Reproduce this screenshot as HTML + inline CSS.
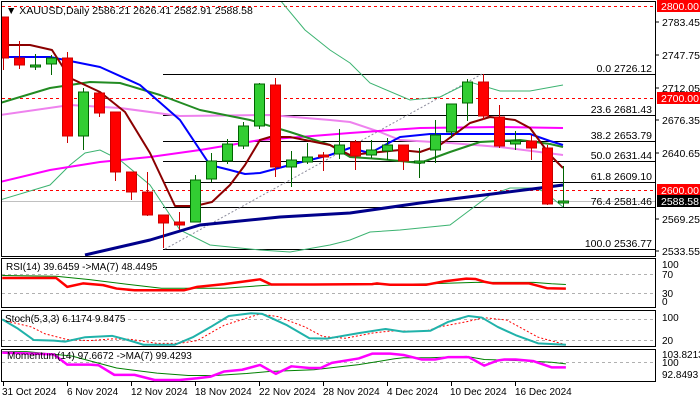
<!DOCTYPE html>
<html><head><meta charset="utf-8"><style>
html,body{margin:0;padding:0;background:#fff;}
svg{display:block;font-family:"Liberation Sans",sans-serif;}
</style></head><body>
<svg width="700" height="400" viewBox="0 0 700 400" xmlns="http://www.w3.org/2000/svg">
<rect width="700" height="400" fill="#fff"/>
<defs><clipPath id="mc"><rect x="2" y="2" width="653" height="254"/></clipPath></defs>
<!-- main frame -->
<rect x="1.5" y="1.5" width="654" height="255" fill="none" stroke="#000"/>
<g clip-path="url(#mc)">
<!-- red dashed levels -->
<g stroke="#ff0000" stroke-dasharray="3,3" stroke-width="1">
<line x1="2" y1="6.5" x2="655" y2="6.5"/><line x1="2" y1="98.5" x2="655" y2="98.5"/><line x1="2" y1="190.5" x2="655" y2="190.5"/>
</g>
<line x1="2" y1="201.5" x2="655" y2="201.5" stroke="#c0c0c0"/>
<!-- fib -->
<g stroke="#000" stroke-width="1">
<line x1="163" y1="74.5" x2="655" y2="74.5"/><line x1="163" y1="115.5" x2="655" y2="115.5"/><line x1="163" y1="141.5" x2="655" y2="141.5"/><line x1="163" y1="161.5" x2="655" y2="161.5"/><line x1="163" y1="182.5" x2="655" y2="182.5"/><line x1="163" y1="207.5" x2="655" y2="207.5"/><line x1="163" y1="249.5" x2="655" y2="249.5"/>
</g>
<line x1="165" y1="249" x2="482" y2="74" stroke="#8c8c9c" stroke-dasharray="2,2"/>
<g font-size="10.5" fill="#000" text-anchor="end">
<text x="652" y="72">0.0 2726.12</text><text x="652" y="113">23.6 2681.43</text><text x="652" y="139">38.2 2653.79</text><text x="652" y="159">50.0 2631.44</text><text x="652" y="180">61.8 2609.10</text><text x="652" y="205">76.4 2581.46</text><text x="652" y="247">100.0 2536.77</text>
</g>
<!-- bollinger -->
<g fill="none" stroke="#3cb371" stroke-width="1">
<polyline points="280,0 305,30 330,50 350,63 370,83 410,100 440,97 470,82 500,91 530,91 563,85"/>
<polyline points="0,200 50,185 70,165 85,153 100,150 120,160 150,185 180,230 210,245 260,250 290,252 330,245 350,240 370,232 400,230 450,225 470,210 490,195 510,188 535,188 545,192 563,207"/>
</g>
<g fill="none" stroke-width="2" stroke-linejoin="round">
<polyline stroke="#ee82ee" points="0,115 70,105 120,108 180,116 270,115 330,120 350,122 380,132 400,140 450,143 500,147 563,155"/>
<polyline stroke="#ff00ff" points="0,182 50,170 100,162 150,157 200,150 260,140 300,137 350,133 420,128 500,127 563,128"/>
<polyline stroke="#00008b" stroke-width="3" points="85,255 150,240 200,225 280,217 350,213 420,203 500,193 540,188 563,185"/>
<polyline stroke="#228b22" points="0,103 50,88 90,82 120,83 160,95 200,110 250,120 290,132 330,145 350,157 380,159 420,163 450,152 480,142 520,140 550,144 563,147"/>
<polyline stroke="#0000ff" points="0,57 50,57 100,67 140,85 180,120 210,165 230,170 245,174 260,173 290,165 330,155 350,148 370,153 400,137 430,134 530,134 550,141 563,145"/>
<polyline stroke="#8b0000" points="0,45 30,45 52,50 70,78 100,92 125,112 150,153 175,206 195,206 212,202 230,185 245,165 260,140 270,137 290,137 330,145 350,155 370,153 400,150 420,152 440,145 470,123 490,117 515,120 530,128 550,155 563,168"/>
</g>
<!-- candles -->
<g stroke-width="1">
<g stroke="#cc0000" fill="#ff0000">
<line x1="3.5" y1="17" x2="3.5" y2="70"/><rect x="-1.5" y="17" width="10" height="41"/>
<line x1="19.5" y1="41" x2="19.5" y2="69"/><rect x="14.5" y="58" width="10" height="7"/>
<line x1="67.5" y1="52" x2="67.5" y2="143"/><rect x="62.5" y="58" width="10" height="78"/>
<line x1="99.5" y1="93" x2="99.5" y2="117"/><rect x="94.5" y="93" width="10" height="20"/>
<line x1="115.5" y1="112" x2="115.5" y2="181"/><rect x="110.5" y="112" width="10" height="60"/>
<line x1="131.5" y1="172" x2="131.5" y2="200"/><rect x="126.5" y="172" width="10" height="20"/>
<line x1="147.5" y1="172" x2="147.5" y2="216"/><rect x="142.5" y="192" width="10" height="23"/>
<line x1="163.5" y1="215" x2="163.5" y2="248"/><rect x="158.5" y="215" width="10" height="8"/>
<line x1="179.5" y1="212" x2="179.5" y2="230"/><rect x="174.5" y="222" width="10" height="3"/>
<line x1="275.5" y1="78" x2="275.5" y2="177"/><rect x="270.5" y="85" width="10" height="82"/>
<line x1="323.5" y1="152" x2="323.5" y2="171"/><rect x="318.5" y="155" width="10" height="2"/>
<line x1="355.5" y1="140" x2="355.5" y2="170"/><rect x="350.5" y="142" width="10" height="14"/>
<line x1="403.5" y1="145" x2="403.5" y2="170"/><rect x="398.5" y="145" width="10" height="16"/>
<line x1="483.5" y1="74" x2="483.5" y2="120"/><rect x="478.5" y="82" width="10" height="34"/>
<line x1="499.5" y1="105" x2="499.5" y2="148"/><rect x="494.5" y="117" width="10" height="29"/>
<line x1="531.5" y1="135" x2="531.5" y2="160"/><rect x="526.5" y="141" width="10" height="7"/>
<line x1="547.5" y1="145" x2="547.5" y2="205"/><rect x="542.5" y="148" width="10" height="56"/>
</g>
<g stroke="#006400" fill="#32cd32">
<line x1="35.5" y1="54" x2="35.5" y2="70"/><rect x="30.5" y="65" width="10" height="2"/>
<line x1="51.5" y1="55" x2="51.5" y2="75"/><rect x="46.5" y="58" width="10" height="6"/>
<line x1="83.5" y1="88" x2="83.5" y2="150"/><rect x="78.5" y="92" width="10" height="44"/>
<line x1="195.5" y1="175" x2="195.5" y2="222"/><rect x="190.5" y="180" width="10" height="42"/>
<line x1="211.5" y1="153" x2="211.5" y2="182"/><rect x="206.5" y="161" width="10" height="18"/>
<line x1="227.5" y1="139" x2="227.5" y2="164"/><rect x="222.5" y="144" width="10" height="17"/>
<line x1="243.5" y1="122" x2="243.5" y2="149"/><rect x="238.5" y="126" width="10" height="20"/>
<line x1="259.5" y1="83" x2="259.5" y2="129"/><rect x="254.5" y="84" width="10" height="42"/>
<line x1="291.5" y1="151" x2="291.5" y2="187"/><rect x="286.5" y="160" width="10" height="7"/>
<line x1="307.5" y1="143" x2="307.5" y2="164"/><rect x="302.5" y="157" width="10" height="5"/>
<line x1="339.5" y1="129" x2="339.5" y2="159"/><rect x="334.5" y="145" width="10" height="9"/>
<line x1="371.5" y1="140" x2="371.5" y2="158"/><rect x="366.5" y="150" width="10" height="5"/>
<line x1="387.5" y1="138" x2="387.5" y2="160"/><rect x="382.5" y="145" width="10" height="6"/>
<line x1="419.5" y1="148" x2="419.5" y2="178"/><rect x="414.5" y="161" width="10" height="2"/>
<line x1="435.5" y1="120" x2="435.5" y2="163"/><rect x="430.5" y="135" width="10" height="15"/>
<line x1="451.5" y1="104" x2="451.5" y2="138"/><rect x="446.5" y="104" width="10" height="28"/>
<line x1="467.5" y1="79" x2="467.5" y2="121"/><rect x="462.5" y="82" width="10" height="21"/>
<line x1="515.5" y1="131" x2="515.5" y2="150"/><rect x="510.5" y="141" width="10" height="3"/>
<line x1="563.5" y1="166" x2="563.5" y2="207"/><rect x="558.5" y="201" width="10" height="2"/>
</g>
</g>
</g>
<text x="6" y="14" font-size="10.5" fill="#000">▼ XAUUSD,Daily  2586.21 2626.41 2582.91 2588.58</text>
<!-- right axis main -->
<g font-size="10.5" fill="#000">
<line x1="655" y1="22" x2="659" y2="22" stroke="#000"/><text x="662" y="26">2783.45</text>
<line x1="655" y1="55" x2="659" y2="55" stroke="#000"/><text x="662" y="59">2747.75</text>
<line x1="655" y1="88" x2="659" y2="88" stroke="#000"/><text x="662" y="92">2712.05</text>
<line x1="655" y1="120" x2="659" y2="120" stroke="#000"/><text x="662" y="124">2676.35</text>
<line x1="655" y1="153" x2="659" y2="153" stroke="#000"/><text x="662" y="157">2640.65</text>
<line x1="655" y1="219" x2="659" y2="219" stroke="#000"/><text x="662" y="223">2569.25</text>
<line x1="655" y1="251" x2="659" y2="251" stroke="#000"/><text x="662" y="255">2533.55</text>
<rect x="657" y="0" width="43" height="12" fill="#ff0000"/><text x="661" y="10" fill="#fff">2800.00</text>
<rect x="657" y="92" width="43" height="12" fill="#ff0000"/><text x="661" y="102" fill="#fff">2700.00</text>
<rect x="657" y="184" width="43" height="12" fill="#ff0000"/><text x="661" y="194" fill="#fff">2600.00</text>
<rect x="657" y="195" width="43" height="12" fill="#000"/><text x="661" y="205" fill="#fff">2588.58</text>
</g>
<!-- sub panels -->
<rect x="1.5" y="258.5" width="654" height="49" fill="none" stroke="#000"/>
<rect x="1.5" y="310.5" width="654" height="36" fill="none" stroke="#000"/>
<rect x="1.5" y="349.5" width="654" height="32" fill="none" stroke="#000"/>
<g stroke="#b0b0b0" stroke-dasharray="3,3">
<line x1="2" y1="274.5" x2="655" y2="274.5"/><line x1="2" y1="293.5" x2="655" y2="293.5"/>
<line x1="2" y1="319.5" x2="655" y2="319.5"/><line x1="2" y1="340.5" x2="655" y2="340.5"/>
<line x1="2" y1="362.5" x2="655" y2="362.5"/>
</g>
<g transform="translate(0,255) scale(0.4484,0.3425)" fill="none" stroke-linejoin="round">
<polyline vector-effect="non-scaling-stroke" stroke="#008000" stroke-width="1" points="5,60 125,62 200,72 300,88 360,97 420,97 500,97 600,88 830,86 900,85 960,84 1060,80 1100,80 1190,80 1230,84 1262,86"/>
<polyline vector-effect="non-scaling-stroke" stroke="#ff0000" stroke-width="2.5" points="5,67 125,67 150,93 185,83 230,88 260,98 300,103 410,103 440,93 500,85 540,78 580,71 605,86 700,86 830,85 840,83 870,87 950,87 990,77 1040,69 1060,70 1080,78 1100,83 1180,83 1220,97 1262,98"/>
<polyline vector-effect="non-scaling-stroke" stroke="#ff0000" stroke-width="1" stroke-dasharray="2,2" points="5,190 70,210 100,230 150,247 200,250 250,245 290,246 350,258 400,258 440,250 500,205 580,172 620,180 680,210 720,238 770,243 830,228 870,222 950,222 980,210 1040,195 1080,183 1130,190 1200,240 1262,262"/>
<polyline vector-effect="non-scaling-stroke" stroke="#20b2aa" stroke-width="2" points="5,188 40,215 75,248 120,250 145,253 190,240 250,236 290,250 320,262 390,262 430,240 470,210 510,178 560,170 585,172 640,205 690,243 730,244 800,228 860,216 900,224 960,221 1000,195 1045,178 1075,183 1110,210 1150,234 1200,258 1262,262"/>
<polyline vector-effect="non-scaling-stroke" stroke="#008000" stroke-width="1" points="5,282 60,282 160,295 260,330 350,345 420,352 480,352 550,346 600,340 700,335 800,320 880,303 900,300 960,300 1040,296 1080,305 1150,308 1230,313 1262,318"/>
<polyline vector-effect="non-scaling-stroke" stroke="#ff00ff" stroke-width="2.5" points="5,285 120,290 150,320 200,320 220,322 255,350 300,350 345,365 400,365 440,360 470,355 500,340 540,335 580,321 615,347 650,325 690,330 715,330 740,315 800,302 830,288 870,288 900,292 940,305 970,305 1000,298 1045,298 1080,323 1110,308 1125,305 1150,305 1190,310 1230,328 1262,328"/>
</g>
<g font-size="10" fill="#000">
<text x="6" y="270">RSI(14) 39.6459  -&gt;MA(7) 48.4495</text>
<text x="5" y="322">Stoch(5,3,3) 6.1174 9.8475</text>
<text x="7" y="359">Momentum(14) 97.6672  -&gt;MA(7) 99.4293</text>
<text x="662" y="268">100</text><text x="662" y="278">70</text><text x="662" y="297">30</text><text x="662" y="305">0</text>
<text x="662" y="321">100</text><text x="662" y="344">20</text>
<text x="662" y="358">103.8213</text><text x="662" y="366">100</text><text x="662" y="378">92.8493</text>
</g>
<!-- time axis -->
<g stroke="#000">
<line x1="3.5" y1="382" x2="3.5" y2="386"/><line x1="67.5" y1="382" x2="67.5" y2="386"/><line x1="131.5" y1="382" x2="131.5" y2="386"/><line x1="195.5" y1="382" x2="195.5" y2="386"/><line x1="259.5" y1="382" x2="259.5" y2="386"/><line x1="323.5" y1="382" x2="323.5" y2="386"/><line x1="387.5" y1="382" x2="387.5" y2="386"/><line x1="451.5" y1="382" x2="451.5" y2="386"/><line x1="515.5" y1="382" x2="515.5" y2="386"/>
</g>
<g font-size="10" fill="#000">
<text x="2" y="395">31 Oct 2024</text><text x="67" y="395">6 Nov 2024</text><text x="131" y="395">12 Nov 2024</text><text x="195" y="395">18 Nov 2024</text><text x="259" y="395">22 Nov 2024</text><text x="323" y="395">28 Nov 2024</text><text x="387" y="395">4 Dec 2024</text><text x="450" y="395">10 Dec 2024</text><text x="515" y="395">16 Dec 2024</text>
</g>
</svg>
</body></html>
